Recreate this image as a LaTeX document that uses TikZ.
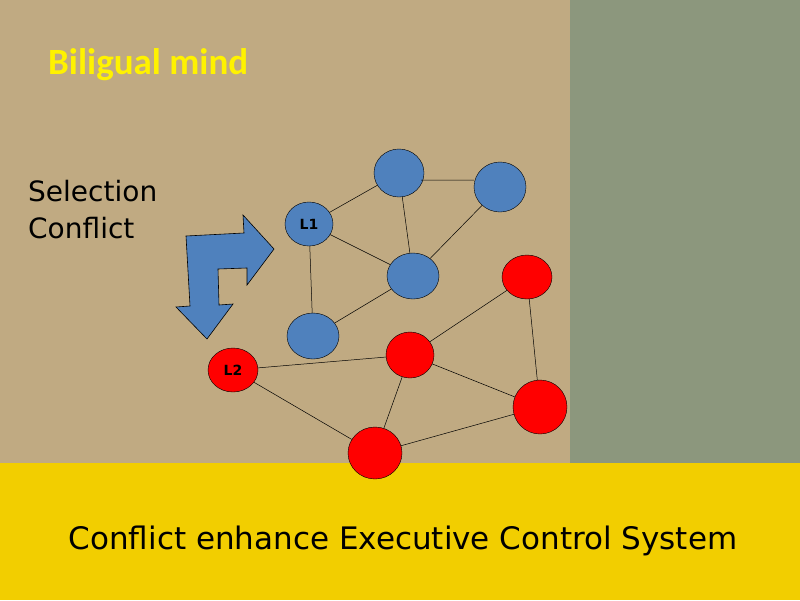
\documentclass[tikz,border=0pt]{standalone}
\usepackage{fontspec}
\setmainfont{DejaVu Sans}
\newfontfamily\titlefont{Carlito}
\begin{document}
\begin{tikzpicture}[x=1pt,y=-1pt,
  blue/.style={draw=black,fill={rgb,255:red,79;green,129;blue,189},ellipse,inner sep=0pt,font=\bfseries\fontsize{14}{16}\selectfont},
  red/.style={draw=black,fill=red,ellipse,inner sep=0pt,font=\bfseries\fontsize{14}{16}\selectfont},
  ln/.style={draw=black,line width=0.5pt}]
\usetikzlibrary{shapes.geometric}
\fill[fill={rgb,255:red,192;green,170;blue,130}] (0,0) rectangle (570,463);
\fill[fill={rgb,255:red,140;green,151;blue,125}] (570,0) rectangle (800,463);
\fill[fill={rgb,255:red,242;green,206;blue,0}] (0,463) rectangle (800,600);
\useasboundingbox (0,0) rectangle (800,600);
\node[anchor=west,text=yellow,font=\titlefont\bfseries\fontsize{37}{40}\selectfont,inner sep=0pt] (title) at (48,65) {Biligual mind};
\node[anchor=west,font=\fontsize{28}{30}\selectfont,inner sep=0pt] (sel1) at (28,191) {Selection};
\node[anchor=west,font=\fontsize{28}{30}\selectfont,inner sep=0pt] (sel2) at (28,228) {Conflict};
\node[font=\fontsize{31}{34}\selectfont] (bottom) at (403,541) {Conflict enhance Executive Control System};
\draw[fill={rgb,255:red,79;green,129;blue,189},draw=black,line width=0.6pt]
 (186,236)--(244,233)--(243,215)--(274,249)--(247,285)--(247,268)--(218,269)--(219,305)--(233,304)--(207,339)--(176,307)--(190,306)--cycle;
\node[blue,minimum width=50,minimum height=48] (b1) at (399,173) {};
\node[blue,minimum width=52,minimum height=50] (b2) at (500,187) {};
\node[blue,minimum width=48,minimum height=44] (l1) at (309,224) {L1};
\node[blue,minimum width=52,minimum height=46] (b3) at (413,276) {};
\node[blue,minimum width=52,minimum height=46] (b4) at (313,336) {};
\node[red,minimum width=50,minimum height=44] (r1) at (527,277) {};
\node[red,minimum width=48,minimum height=46] (r2) at (410,355) {};
\node[red,minimum width=50,minimum height=44] (l2) at (233,370) {L2};
\node[red,minimum width=54,minimum height=54] (r4) at (540,407) {};
\node[red,minimum width=54,minimum height=52] (r5) at (375,453) {};
\coordinate (e1) at (421,180);
\coordinate (e2) at (474,180);
\draw[ln] (l1)--(b1) (e1)--(e2) (b1)--(b3) (b2)--(b3) (l1)--(b3) (l1)--(b4) (b4)--(b3);
\draw[ln] (l2)--(r2) (l2)--(r5) (r2)--(r1) (r2)--(r4) (r2)--(r5) (r1)--(r4) (r4)--(r5);
\end{tikzpicture}
\end{document}
